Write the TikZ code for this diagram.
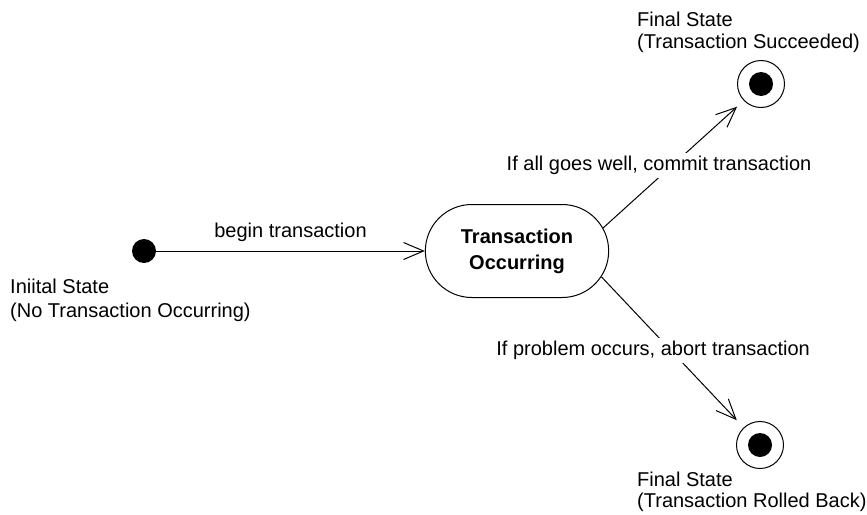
\documentclass[tikz,border=0pt]{standalone}
\usepackage{fontspec}
\setmainfont{Liberation Sans}
\usetikzlibrary{arrows.meta,shapes.misc}
\begin{document}
\begin{tikzpicture}[x=1pt,y=-1pt,
  every node/.style={font=\fontsize{20}{26}\selectfont},
  conn/.style={draw=black,line width=1pt,-{Straight Barb[length=20pt,width=17pt,line width=1pt]}},
  lbl/.style={fill=white,inner sep=3pt},
  note/.style={align=left,inner sep=0pt,anchor=base west},
  initdot/.style={circle,fill=black,minimum size=24pt,inner sep=0pt},
  finouter/.style={circle,draw,line width=1pt,minimum size=47pt,inner sep=0pt},
  fininner/.style={circle,fill=black,minimum size=24pt,inner sep=0pt},
  statebox/.style={rounded rectangle,draw,line width=1pt,minimum width=190pt,minimum height=93pt,align=center,font=\fontsize{20}{26}\selectfont\bfseries}]
\useasboundingbox (0,0) rectangle (867,514);
\node[initdot] (init) at (144,251) {};
\node[statebox] (tx) at (517,251) {Transaction\\Occurring};
\node[finouter] (fin1) at (761,84) {};
\node[fininner] (fin1in) at (761,84) {};
\node[finouter] (fin2) at (760,445) {};
\node[fininner] (fin2in) at (760,445) {};
\node[note,font=\fontsize{20}{24}\selectfont] (initlbl) at (10,317) {Iniital State\\(No Transaction Occurring)};
\node[note,font=\fontsize{20}{21}\selectfont] (fin1lbl) at (637,48) {Final State\\(Transaction Succeeded)};
\node[note,font=\fontsize{20}{20.5}\selectfont] (fin2lbl) at (637,507) {Final State\\(Transaction Rolled Back)};
\draw[conn] (init) -- node[above=6pt] {begin transaction} (tx);
\draw[conn,shorten >=9pt] (tx.15) -- node[lbl,pos=0.49,xshift=-13pt] {If all goes well, commit transaction} (fin1.224);
\draw[conn,shorten >=10pt] (tx.-17) -- node[lbl,pos=0.49,xshift=-18pt] {If problem occurs, abort transaction} (fin2.133);
\end{tikzpicture}
\end{document}
